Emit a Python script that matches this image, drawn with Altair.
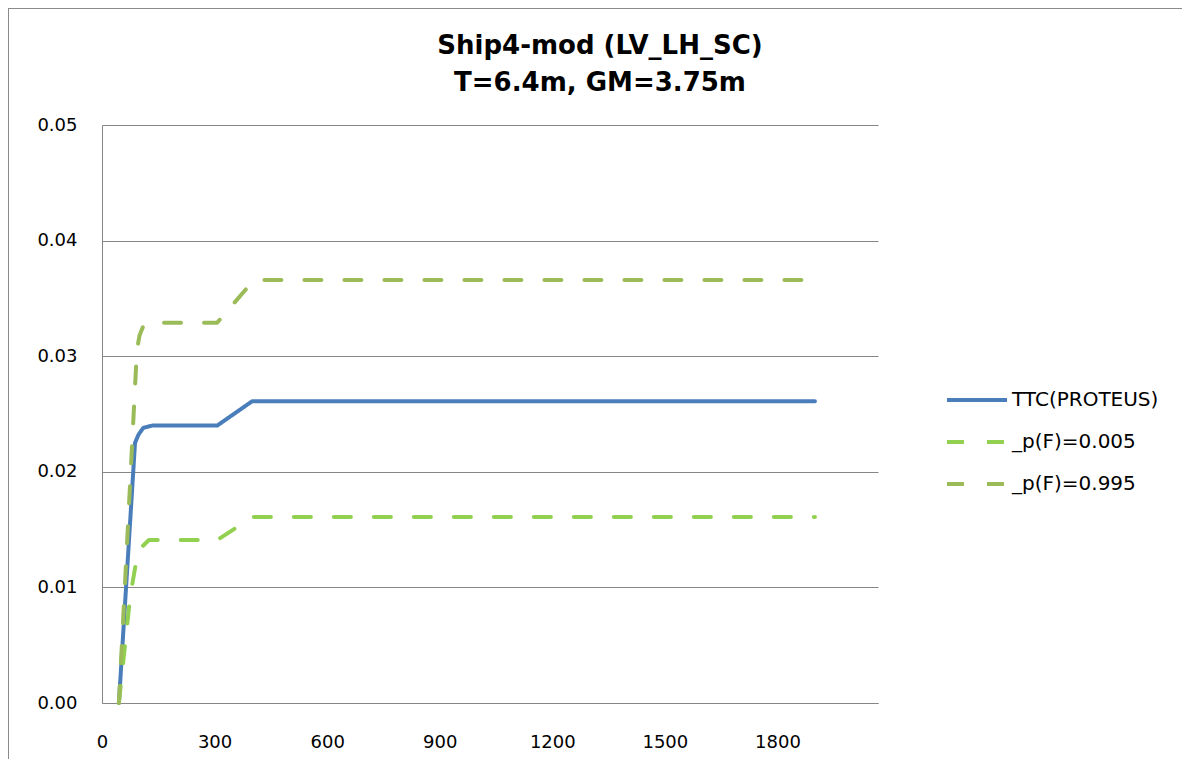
import altair as alt
import pandas as pd

series_names = ["TTC(PROTEUS)", "_p(F)=0.005", "_p(F)=0.995"]

ttc_x = [45, 88, 97, 110, 135, 307, 400, 1900]
ttc_y = [0.0, 0.0225, 0.0232, 0.0238, 0.024, 0.024, 0.0261, 0.0261]

p005_x = [45, 75, 92, 106, 125, 307, 402, 1900]
p005_y = [0.0, 0.0092, 0.0124, 0.0135, 0.0141, 0.0141, 0.0161, 0.0161]

p995_x = [45, 93, 100, 110, 125, 307, 405, 1900]
p995_y = [0.0, 0.0305, 0.0318, 0.0326, 0.0329, 0.0329, 0.0366, 0.0366]

x_ticks = [0, 300, 600, 900, 1200, 1500, 1800]
y_ticks = [0.0, 0.01, 0.02, 0.03, 0.04, 0.05]

rows = []
for name, xs, ys in [(series_names[0], ttc_x, ttc_y),
                     (series_names[1], p005_x, p005_y),
                     (series_names[2], p995_x, p995_y)]:
    for i, (xv, yv) in enumerate(zip(xs, ys)):
        rows.append({"series": name, "x": xv, "y": yv, "order": i})
df = pd.DataFrame(rows)

FONT = "DejaVu Sans"
GRID = "#868686"

legend_cfg = dict(title=None, orient="none", legendX=843, legendY=243,
                  labelFont=FONT, labelFontSize=20, labelColor="#000000",
                  symbolType="stroke", symbolSize=3600,
                  symbolStrokeWidth=4, rowPadding=-28, labelOffset=3)

lines = alt.Chart(df).mark_line(strokeWidth=4, strokeCap="round", strokeJoin="round").encode(
    x=alt.X("x:Q",
            scale=alt.Scale(domain=[0, 2068], nice=False, zero=False),
            axis=alt.Axis(values=x_ticks, format="d", title=None, grid=False, ticks=False,
                          domain=True, domainColor=GRID, labelPadding=30, labelFlush=False,
                          labelFont=FONT, labelFontSize=18, labelColor="#000000")),
    y=alt.Y("y:Q",
            scale=alt.Scale(domain=[0, 0.05], nice=False),
            axis=alt.Axis(values=y_ticks, format=".2f", title=None, grid=True,
                          gridColor=GRID, gridWidth=1, ticks=False,
                          domain=True, domainColor=GRID, labelPadding=25,
                          labelFont=FONT, labelFontSize=18, labelColor="#000000")),
    color=alt.Color("series:N",
                    scale=alt.Scale(domain=series_names,
                                    range=["#4A7EBB", "#92D050", "#9BBB59"]),
                    legend=alt.Legend(**legend_cfg)),
    strokeDash=alt.StrokeDash("series:N",
                              scale=alt.Scale(domain=series_names,
                                              range=[[1, 0], [17, 23], [17, 23]]),
                              legend=alt.Legend(**legend_cfg)),
    detail="series:N",
    order="order:Q",
)

border = alt.Chart(df).mark_rule(color="#8a8a8a", strokeWidth=2, clip=False).encode(
    x=alt.value(-94), x2=alt.value(-94), y=alt.value(-117), y2=alt.value(634)
)
border_top = alt.Chart(df).mark_rule(color="#8a8a8a", strokeWidth=2, clip=False).encode(
    x=alt.value(-94), x2=alt.value(1080), y=alt.value(-117), y2=alt.value(-117)
)

chart = alt.layer(border, border_top, lines).properties(
    width=776,
    height=578,
    padding={"left": 94, "top": 117, "right": 304, "bottom": 56},
    autosize=alt.AutoSizeParams(type="none"),
    title=alt.TitleParams(["Ship4-mod (LV_LH_SC)", "T=6.4m, GM=3.75m"],
                          font=FONT, fontSize=26, fontWeight="bold", color="#000000",
                          anchor="middle", frame="group", dx=110, dy=117, offset=28,
                          lineHeight=37),
).configure(background="white").configure_view(stroke=None)

chart.save("out.html", embed_options={"renderer": "svg", "actions": False})
